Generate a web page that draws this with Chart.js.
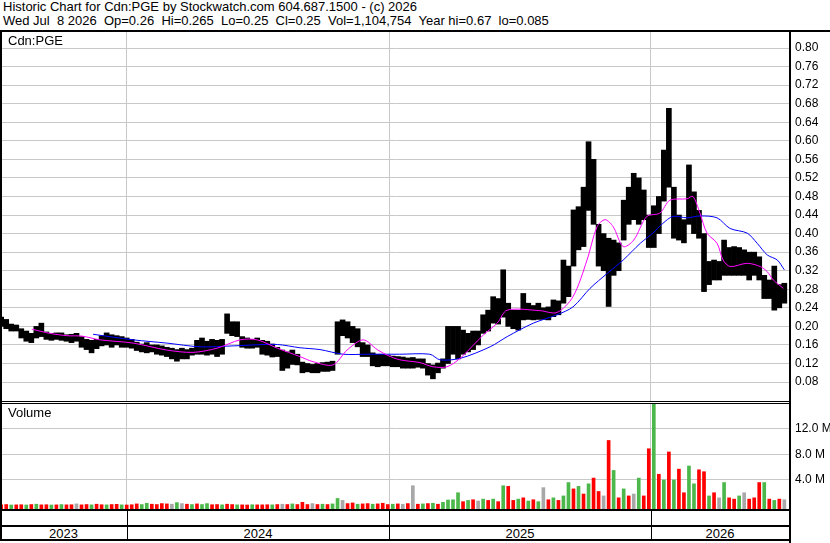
<!DOCTYPE html>
<html>
<head>
<meta charset="utf-8">
<script src="https://cdn.jsdelivr.net/npm/chart.js@4.4.1/dist/chart.umd.min.js"></script>
<style>
  html, body { margin: 0; padding: 0; background: #fff; }
  #page { position: relative; width: 830px; height: 543px; overflow: hidden; font-family: "Liberation Sans", Arial, sans-serif; color: #000; }
  .txt { position: absolute; white-space: pre; font-size: 13px; line-height: 14px; }
  .line { position: absolute; background: #000; }
  canvas { position: absolute; }
</style>
</head>
<body>
<div id="page">
  <div class="txt" style="left:3px;top:0px">Historic Chart for Cdn:PGE by Stockwatch.com 604.687.1500 - (c) 2026</div>
  <div class="txt" style="left:3px;top:14px">Wed Jul  8 2026  Op=0.26  Hi=0.265  Lo=0.25  Cl=0.25  Vol=1,104,754  Year hi=0.67  lo=0.085</div>

  <canvas id="priceChart" width="828" height="369" style="left:2px;top:32px"></canvas>
  <canvas id="volumeChart" width="828" height="105" style="left:2px;top:404px"></canvas>

  <div class="txt" style="left:8px;top:34px">Cdn:PGE</div>
  <div class="txt" style="left:8px;top:406px">Volume</div>

  <div class="line" style="left:0;top:30px;width:830px;height:2px"></div>
  <div class="line" style="left:0;top:30px;width:2px;height:511px"></div>
  <div class="line" style="left:789px;top:30px;width:2px;height:513px"></div>
  <div class="line" style="left:0;top:401px;width:789px;height:1px"></div>
  <div class="line" style="left:0;top:403px;width:789px;height:1px"></div>
  <div class="line" style="left:0;top:509px;width:789px;height:2px"></div>
  <div class="line" style="left:0;top:525px;width:789px;height:2px"></div>
  <div class="line" style="left:0;top:539px;width:789px;height:2px"></div>
  <div id="yearStrip"></div>
</div>

<script>
// weekly bars, week 0 = 2023-07-10, last week = 2026-07-06
const priceHigh = [
  0.22, 0.215, 0.205, 0.203, 0.195, 0.19, 0.185, 0.2, 0.207, 0.188,
  0.185, 0.186, 0.186, 0.182, 0.183, 0.185, 0.178, 0.172, 0.17, 0.172,
  0.18, 0.186, 0.182, 0.18, 0.178, 0.175, 0.172, 0.166, 0.162, 0.165,
  0.16, 0.16, 0.158, 0.155, 0.153, 0.15, 0.153, 0.15, 0.153, 0.17,
  0.175, 0.168, 0.172, 0.17, 0.172, 0.227, 0.21, 0.21, 0.178, 0.175,
  0.172, 0.175, 0.17, 0.168, 0.162, 0.155, 0.149, 0.145, 0.149, 0.14,
  0.123, 0.12, 0.118, 0.12, 0.122, 0.123, 0.125, 0.21, 0.214, 0.21,
  0.2, 0.195, 0.165, 0.16, 0.143, 0.14, 0.14, 0.138, 0.136, 0.135,
  0.134, 0.132, 0.133, 0.13, 0.13, 0.12, 0.117, 0.121, 0.13, 0.2,
  0.2, 0.2, 0.192, 0.185, 0.19, 0.19, 0.225, 0.235, 0.264, 0.26,
  0.322, 0.25, 0.235, 0.235, 0.271, 0.25, 0.245, 0.25, 0.24, 0.242,
  0.257, 0.255, 0.343, 0.33, 0.451, 0.458, 0.5, 0.598, 0.56, 0.42,
  0.4, 0.39, 0.386, 0.38, 0.472, 0.5, 0.53, 0.52, 0.494, 0.44,
  0.46, 0.48, 0.58, 0.67, 0.5, 0.44, 0.43, 0.548, 0.49, 0.45,
  0.4, 0.34, 0.343, 0.34, 0.386, 0.37, 0.372, 0.37, 0.365, 0.36,
  0.36, 0.35, 0.31, 0.3, 0.33, 0.29, 0.293
];
const priceLow = [
  0.2, 0.195, 0.19, 0.19, 0.175, 0.168, 0.165, 0.175, 0.178, 0.172,
  0.17, 0.172, 0.17, 0.168, 0.165, 0.168, 0.155, 0.15, 0.143, 0.152,
  0.158, 0.16, 0.155, 0.16, 0.155, 0.155, 0.153, 0.148, 0.145, 0.143,
  0.145, 0.14, 0.138, 0.135, 0.13, 0.125, 0.13, 0.13, 0.138, 0.14,
  0.14, 0.138, 0.14, 0.135, 0.14, 0.185, 0.18, 0.178, 0.155, 0.153,
  0.153, 0.155, 0.14, 0.138, 0.134, 0.135, 0.105, 0.11, 0.118, 0.117,
  0.1, 0.102, 0.1, 0.1, 0.103, 0.103, 0.105, 0.14, 0.18, 0.175,
  0.165, 0.156, 0.135, 0.135, 0.115, 0.113, 0.115, 0.115, 0.113, 0.113,
  0.11, 0.11, 0.11, 0.112, 0.11, 0.095, 0.087, 0.1, 0.11, 0.12,
  0.14, 0.13, 0.14, 0.145, 0.15, 0.16, 0.185, 0.19, 0.207, 0.205,
  0.22, 0.2, 0.195, 0.192, 0.214, 0.215, 0.214, 0.215, 0.215, 0.214,
  0.221, 0.225, 0.25, 0.264, 0.33, 0.365, 0.372, 0.45, 0.42, 0.33,
  0.32, 0.243, 0.31, 0.32, 0.386, 0.42, 0.43, 0.42, 0.43, 0.37,
  0.37, 0.4, 0.47, 0.5, 0.39, 0.386, 0.38, 0.42, 0.4, 0.39,
  0.275, 0.29, 0.3, 0.3, 0.31, 0.31, 0.31, 0.31, 0.31, 0.3,
  0.31, 0.3, 0.26, 0.26, 0.235, 0.24, 0.25
];
// volume in millions of shares, trend: r = down, g = up, n = unchanged
const volume = [
  0.1, 0.15, 0.08, 0.1, 0.12, 0.08, 0.15, 0.2, 0.1, 0.12,
  0.08, 0.1, 0.15, 0.1, 0.12, 0.25, 0.1, 0.15, 0.1, 0.2,
  0.12, 0.1, 0.15, 0.18, 0.1, 0.08, 0.12, 0.25, 0.15, 0.35,
  0.2, 0.15, 0.3, 0.25, 0.2, 0.45, 0.3, 0.2, 0.15, 0.25,
  0.15, 0.3, 0.12, 0.15, 0.1, 0.2, 0.15, 0.1, 0.1, 0.08,
  0.12, 0.1, 0.1, 0.12, 0.1, 0.15, 0.2, 0.15, 0.25, 0.15,
  0.5, 0.15, 0.3, 0.15, 0.2, 0.15, 0.25, 1.1, 0.8, 0.3,
  0.4, 0.2, 0.25, 0.3, 0.2, 0.25, 0.35, 0.15, 0.2, 0.25,
  0.2, 0.3, 3.1, 0.2, 0.25, 0.3, 0.35, 0.2, 0.5, 0.86,
  0.9, 2.0, 0.6, 0.8, 0.9, 0.7, 1.0, 0.8, 1.0, 0.6,
  3.1, 3.0, 0.8, 1.0, 1.2, 0.7, 0.9, 0.6, 2.8, 0.9,
  1.2, 0.8, 1.5, 3.6, 2.6, 3.0, 1.8, 3.4, 4.3, 2.2,
  1.5, 10.2, 5.5, 1.2, 2.6, 1.5, 1.8, 4.3, 1.5, 8.9,
  16.5, 4.9, 4.0, 8.4, 4.0, 5.7, 2.0, 6.2, 3.4, 5.6,
  5.3, 1.5, 2.0, 1.2, 3.6, 1.2, 1.0, 1.5, 2.0, 1.0,
  1.2, 3.6, 3.6, 1.0, 0.8, 1.0, 0.9
];
const volTrend = (
  "rrgrrgrgrr" + "grgrrnrrgr" + "rgrrgrrrgg" + "rrrrngnrgr" + "ggrrgrrgrr" +
  "grrrgrnrgr" + "rrnrgrggnr" + "rgrrgrrrgr" + "nrnrgrgrgg" + "ggrgrngrgr" +
  "grrgrgrgnr" + "grggrgrgrr" + "nrgrgrngrr" + "grgrgrrggr" + "rgrngrrgnr" +
  "rrgrgrn"
).split("");

// moving averages, read at week positions
const shortMaWeek = [6.1, 9.7, 13.1, 16.1, 19.7, 26.3, 33.0, 38.2, 43.0, 47.6, 51.0, 55.0, 59.5, 62.1, 66.1, 68.9, 72.1, 74.9, 76.9, 79.4, 83.4, 86.0, 88.8, 91.4, 96.0, 98.8, 100.8, 107.3, 110.7, 113.9, 116.7, 118.7, 120.3, 121.9, 123.9, 126.0, 128.6, 131.2, 133.2, 136.6, 137.8, 139.2, 140.6, 142.6, 143.8, 145.2, 148.6, 151.2, 152.6, 153.8, 155.8];
const shortMa = [0.194, 0.185, 0.18, 0.179, 0.171, 0.164, 0.149, 0.144, 0.153, 0.171, 0.171, 0.153, 0.135, 0.124, 0.117, 0.149, 0.171, 0.15, 0.138, 0.128, 0.122, 0.113, 0.113, 0.131, 0.181, 0.207, 0.235, 0.234, 0.23, 0.264, 0.343, 0.415, 0.43, 0.415, 0.372, 0.386, 0.437, 0.444, 0.472, 0.475, 0.48, 0.444, 0.401, 0.379, 0.343, 0.329, 0.336, 0.329, 0.318, 0.3, 0.282];
const longMaWeek = [18.3, 26.3, 33.0, 39.6, 46.2, 50.2, 55.0, 59.5, 63.5, 68.1, 72.9, 79.4, 85.4, 87.4, 91.4, 97.4, 100.8, 106.0, 110.7, 113.9, 117.3, 120.7, 123.9, 127.3, 129.8, 131.8, 133.8, 136.6, 139.2, 142.6, 145.2, 148.6, 150.6, 152.6, 154.6, 156.0];
const longMa = [0.183, 0.171, 0.164, 0.156, 0.158, 0.16, 0.161, 0.154, 0.15, 0.14, 0.14, 0.14, 0.14, 0.128, 0.131, 0.156, 0.178, 0.207, 0.225, 0.242, 0.282, 0.314, 0.343, 0.379, 0.401, 0.422, 0.437, 0.434, 0.438, 0.434, 0.411, 0.401, 0.379, 0.354, 0.343, 0.322];

const priceTicks = [0.08, 0.12, 0.16, 0.2, 0.24, 0.28, 0.32, 0.36, 0.4, 0.44, 0.48, 0.52, 0.56, 0.6, 0.64, 0.68, 0.72, 0.76, 0.8];
const volumeTicks = [4, 8, 12];
const yearLabels = ["2023", "2024", "2025", "2026"];
const yearStartWeek = [25, 77.29, 129.43]; // Jan 1 of 2024, 2025, 2026

const X_MIN = 0.16;
const X_MAX = 156.93;
const VOL_MIN = -0.55;
const FONT = "'Liberation Sans', Arial, sans-serif";

// chart.js reserves room for half a label above/below; the panels here don't
function noPadding(s) {
  s.paddingTop = 0;
  s.paddingBottom = 0;
  s.paddingLeft = 0;
  s.paddingRight = 0;
}

const setup = {
  xScale: function () {
    return {
      type: "linear",
      min: X_MIN,
      max: X_MAX,
      offset: false,
      grid: { color: "#c8c8c8", drawTicks: false, offset: false },
      border: { display: false },
      ticks: { display: false },
      afterBuildTicks: (s) => {
        s.ticks = yearStartWeek.map((v) => ({ value: v }));
      },
      afterFit: (s) => {
        s.height = 0;
        noPadding(s);
      },
    };
  },

  yScale: function (min, max, ticks, fmt) {
    return {
      position: "right",
      min: min,
      max: max,
      grid: { color: "#c8c8c8", drawTicks: false },
      border: { display: false },
      ticks: {
        padding: 6,
        color: "#000",
        font: { family: FONT, size: 12 },
        callback: fmt,
      },
      afterBuildTicks: (s) => {
        s.ticks = ticks.map((v) => ({ value: v }));
      },
      afterFit: (s) => {
        s.width = 41;
        noPadding(s);
      },
    };
  },

  initPriceChart: function () {
    const ctx = document.getElementById("priceChart").getContext("2d");
    const weeks = priceHigh.map((_, i) => i);

    return new Chart(ctx, {
      type: "bar",
      data: {
        datasets: [
          {
            type: "line",
            data: shortMaWeek.map((w, i) => ({ x: w, y: shortMa[i] })),
            borderColor: "#ff00ff",
            borderWidth: 1,
            pointRadius: 0,
            tension: 0.3,
            order: 0,
          },
          {
            type: "line",
            data: longMaWeek.map((w, i) => ({ x: w, y: longMa[i] })),
            borderColor: "#0000ff",
            borderWidth: 1,
            pointRadius: 0,
            tension: 0.3,
            order: 1,
          },
          {
            data: weeks.map((i) => ({ x: i, y: [priceLow[i], priceHigh[i]] })),
            backgroundColor: "#000",
            barThickness: 5,
            order: 2,
          },
        ],
      },
      options: {
        responsive: false,
        animation: false,
        layout: { padding: 0 },
        plugins: { legend: { display: false }, tooltip: { enabled: false } },
        scales: {
          x: this.xScale(),
          y: this.yScale(0.0392, 0.8345, priceTicks, (v) => v.toFixed(2)),
        },
      },
    });
  },

  initVolumeChart: function () {
    const ctx = document.getElementById("volumeChart").getContext("2d");
    const colors = { r: "#ff0000", g: "#4cb84c", n: "#a8a8a8" };

    return new Chart(ctx, {
      type: "bar",
      data: {
        datasets: [
          {
            data: volume.map((v, i) => ({ x: i, y: [VOL_MIN, v] })),
            backgroundColor: volTrend.map((t) => colors[t]),
            barThickness: 3,
          },
        ],
      },
      options: {
        responsive: false,
        animation: false,
        layout: { padding: 0 },
        plugins: { legend: { display: false }, tooltip: { enabled: false } },
        scales: {
          x: this.xScale(),
          y: this.yScale(VOL_MIN, 15.92, volumeTicks, (v) => v.toFixed(1) + " M"),
        },
      },
    });
  },

  initYearStrip: function (chart) {
    const strip = document.getElementById("yearStrip");
    const xs = chart.scales.x;
    const bounds = [0].concat(
      yearStartWeek.map((w) => Math.round(2 + xs.getPixelForValue(w))),
      [789]
    );

    yearLabels.forEach((label, i) => {
      const el = document.createElement("div");
      el.className = "txt";
      el.textContent = label;
      el.style.left = bounds[i] + "px";
      el.style.width = bounds[i + 1] - bounds[i] + "px";
      el.style.textAlign = "center";
      el.style.top = "527px";
      strip.appendChild(el);
    });

    yearStartWeek.forEach((_, i) => {
      const sep = document.createElement("div");
      sep.className = "line";
      sep.style.left = bounds[i + 1] + "px";
      sep.style.top = "511px";
      sep.style.width = "1px";
      sep.style.height = "28px";
      strip.appendChild(sep);
    });
  },

  init: function () {
    const priceChart = this.initPriceChart();
    this.initVolumeChart();
    this.initYearStrip(priceChart);
  },
};

document.addEventListener("DOMContentLoaded", function () {
  setup.init();
});
</script>
</body>
</html>
